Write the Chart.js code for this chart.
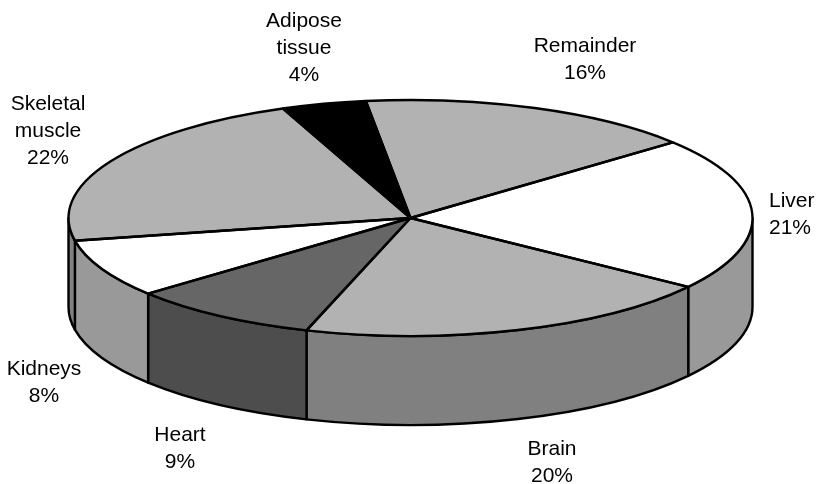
<!DOCTYPE html>
<html>
<head>
<meta charset="utf-8">
<style>html,body{margin:0;padding:0;background:#fff}#wrap{width:817px;height:484px}canvas{display:block}</style>
<script src="https://cdn.jsdelivr.net/npm/chart.js@4"></script>
</head>
<body>
<div id="wrap"><canvas id="c" width="817" height="484"></canvas></div>
<script>
const categories = ['Remainder', 'Liver', 'Brain', 'Heart', 'Kidneys', 'Skeletal muscle', 'Adipose tissue'];
const shares = [16, 21, 20, 9, 8, 22, 4];
const labelLines = [['Remainder'], ['Liver'], ['Brain'], ['Heart'], ['Kidneys'], ['Skeletal', 'muscle'], ['Adipose', 'tissue']];
const topColors = ['#b2b2b2', '#ffffff', '#b2b2b2', '#666666', '#ffffff', '#b2b2b2', '#000000'];
const wallColors = ['#999999', '#999999', '#808080', '#4d4d4d', '#999999', '#808080', '#000000'];

// layout of the drawing (kept apart from the data)
const RX = 342, RY = 118, DEPTH = 89, START_DEG = -7.5, STROKE = 2.4;
const FONT = '21px "Liberation Sans", Arial, sans-serif';
const LINE = 27;
const labelAnchors = [
  {x: 585, y: 46.5}, {x: 769, y: 201.5, align: 'left'}, {x: 552, y: 449.5}, {x: 180, y: 435.5},
  {x: 44, y: 369.5}, {x: 48, y: 104.5}, {x: 304, y: 21.5}
];

const pie3d = {
  id: 'pie3d',
  beforeDatasetsDraw(chart) {
    const ctx = chart.ctx, arcs = chart.getDatasetMeta(0).data, TAU = Math.PI * 2;
    ctx.save();
    ctx.lineWidth = STROKE; ctx.lineJoin = 'round'; ctx.strokeStyle = '#000';
    arcs.forEach((arc, i) => {
      for (let k = -1; k <= 1; k++) {
        const a = Math.max(arc.startAngle, TAU * k), b = Math.min(arc.endAngle, Math.PI + TAU * k);
        if (b <= a) continue;
        ctx.beginPath();
        ctx.ellipse(arc.x, arc.y, RX, RY, 0, a, b);
        ctx.ellipse(arc.x, arc.y + DEPTH, RX, RY, 0, b, a, true);
        ctx.closePath();
        ctx.fillStyle = wallColors[i];
        ctx.fill(); ctx.stroke();
      }
    });
    ctx.restore();
    // the library's arcs are circles: squash them into the tilted top face
    const c = arcs[0];
    ctx.save();
    ctx.translate(c.x, c.y);
    ctx.scale(1, RY / RX);
    ctx.translate(-c.x, -c.y);
  },
  afterDatasetsDraw(chart) {
    const ctx = chart.ctx, arcs = chart.getDatasetMeta(0).data;
    ctx.restore();
    ctx.save();
    ctx.lineWidth = STROKE; ctx.lineJoin = 'round'; ctx.strokeStyle = '#000';
    arcs.forEach(arc => {
      ctx.beginPath();
      ctx.moveTo(arc.x, arc.y);
      ctx.ellipse(arc.x, arc.y, RX, RY, 0, arc.startAngle, arc.endAngle);
      ctx.closePath();
      ctx.stroke();
    });
    ctx.fillStyle = '#000'; ctx.font = FONT; ctx.textBaseline = 'middle';
    categories.forEach((name, i) => {
      const lines = labelLines[i].concat(Math.round(shares[i]) + '%');
      const p = labelAnchors[i];
      ctx.textAlign = p.align || 'center';
      lines.forEach((t, j) => ctx.fillText(t, p.x, p.y + j * LINE));
    });
    ctx.restore();
  }
};

new Chart(document.getElementById('c'), {
  type: 'pie',
  data: {
    labels: categories,
    datasets: [{ data: shares, backgroundColor: topColors, borderWidth: 0, clip: false }]
  },
  options: {
    responsive: false,
    animation: false,
    radius: RX,
    rotation: START_DEG,
    layout: { padding: { left: 4, bottom: 48 } },
    plugins: { legend: { display: false }, tooltip: { enabled: false }, title: { display: false } }
  },
  plugins: [pie3d]
});
</script>
</body>
</html>
